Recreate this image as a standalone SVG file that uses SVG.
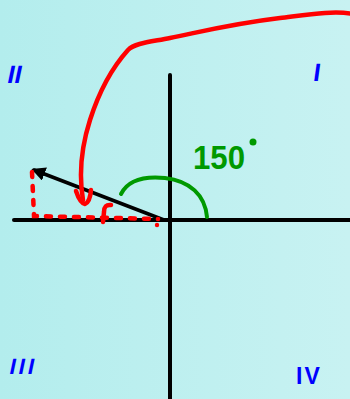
<svg xmlns="http://www.w3.org/2000/svg" width="350" height="399" viewBox="0 0 350 399">
<defs>
<linearGradient id="bg" x1="0" y1="0" x2="1" y2="0">
<stop offset="0" stop-color="#b3eded"/>
<stop offset="1" stop-color="#c8f2f2"/>
</linearGradient>
<marker id="ah" viewBox="0 0 10 10" refX="8" refY="5" markerWidth="4" markerHeight="4" orient="auto" markerUnits="strokeWidth">
<path d="M0,0 L10,5 L0,10 Z" fill="#000"/>
</marker>
</defs>
<style>
.ax{stroke:#000;stroke-width:4;stroke-linecap:round;fill:none}
.red{stroke:#ff0000;stroke-width:4.5;stroke-linecap:round;stroke-linejoin:round;fill:none}
.dash{stroke:#ff0000;stroke-width:4.5;stroke-linecap:round;fill:none;stroke-dasharray:5 9}
.grn{stroke:#009900;stroke-width:4;stroke-linecap:round;fill:none}
.q{font-family:"Liberation Sans",Arial,sans-serif;font-weight:bold;fill:#0000ff}
.ang{font-family:"Liberation Sans",Arial,sans-serif;font-weight:bold;fill:#009900}
</style>
<rect x="0" y="0" width="350" height="399" fill="url(#bg)"/>
<g id="axes">
<line class="ax" x1="14" y1="220" x2="352" y2="220"/>
<line class="ax" x1="170" y1="75" x2="170" y2="401"/>
</g>
<g id="vector">
<line x1="164" y1="220" x2="34" y2="170" stroke="#000" stroke-width="3.5" stroke-linecap="round" marker-end="url(#ah)"/>
</g>
<g id="reference-triangle">
<path class="dash" d="M32,172 L34,216 L158,219"/>
<circle cx="157" cy="225" r="2.2" fill="#ff0000"/>
<path class="red" d="M111,205 Q104,204 104,212 L103,222" stroke-width="4"/>
</g>
<g id="connectors">
<path class="red" d="M352,14 C335,10 305,15 280,18 C230,24 200,32 170,38 C150,42 135,43 128,50 C110,70 98,95 90,120 C82,145 78,170 83,200"/>
<path class="red" d="M76,191 Q80,203 85,204 Q90,202 91,190"/>
</g>
<g id="angle">
<path class="grn" d="M121,194 C128,180 145,176 165,178 C190,181 205,195 207,217"/>
<text class="ang" x="193" y="169" font-size="34" textLength="52" lengthAdjust="spacingAndGlyphs">150</text>
<circle cx="253" cy="142" r="3.5" fill="#009900"/>
</g>
<g id="quadrant-labels">
<text class="q" x="7" y="83" font-size="25" transform="skewX(-12) translate(17,0)">II</text>
<text class="q" x="313" y="81" font-size="25" transform="skewX(-8) translate(11,0)">I</text>
<text class="q" x="9" y="374" font-size="22" letter-spacing="3" transform="skewX(-12) translate(79,0)">III</text>
<text class="q" x="296" y="384" font-size="23" letter-spacing="2">IV</text>
</g>
</svg>
